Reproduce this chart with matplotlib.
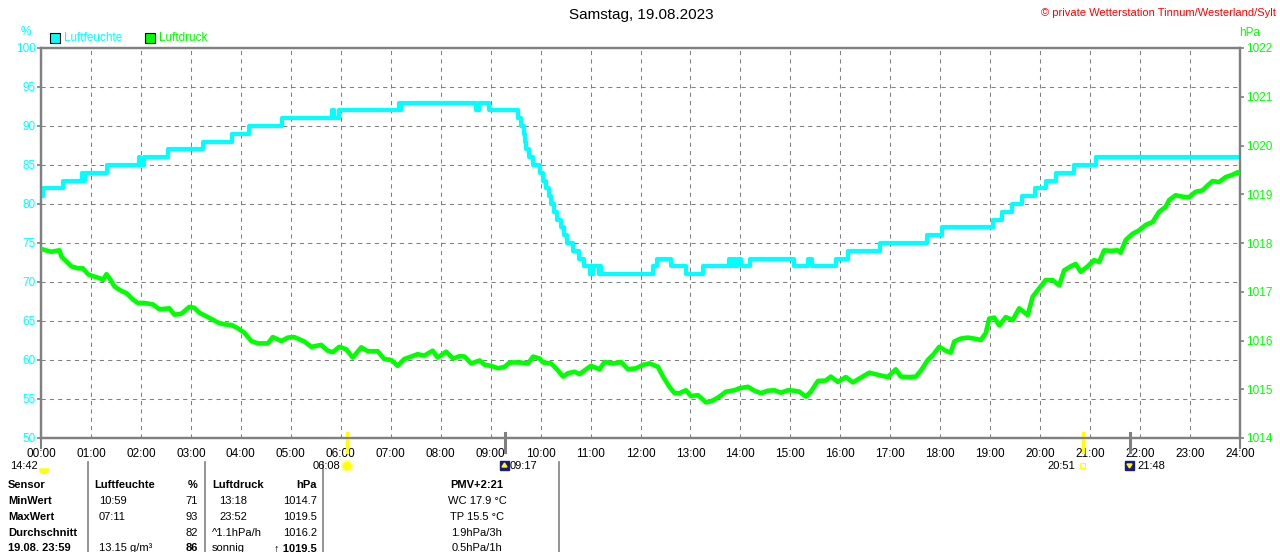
import matplotlib
matplotlib.use('Agg')
import matplotlib.pyplot as plt
import matplotlib.transforms as mtransforms
from matplotlib.patches import Rectangle, Circle, Wedge, Polygon

plt.rcParams['font.family'] = ['Liberation Sans', 'DejaVu Sans']

# Luftfeuchte (%) as step breakpoints: hour of day, value
hum_hours = [0.00, 0.05, 0.45, 0.83, 0.86, 0.89, 1.32, 1.96, 1.99, 2.07, 2.55, 3.25, 3.83,
             4.17, 4.83, 5.83, 5.86, 5.97, 7.17, 7.19, 7.21, 8.70, 8.76, 8.97, 9.55, 9.60,
             9.66, 9.68, 9.70, 9.77, 9.85, 9.98, 10.05, 10.10, 10.17, 10.20, 10.27, 10.33,
             10.40, 10.47, 10.53, 10.65, 10.77, 10.87, 10.98, 11.00, 11.02, 11.04, 11.17,
             11.18, 11.20, 12.25, 12.33, 12.61, 12.92, 13.25, 13.77, 13.82, 13.85, 13.90,
             13.95, 14.02, 14.19, 15.08, 15.35, 15.43, 15.92, 16.15, 16.79, 17.73, 18.03,
             19.05, 19.23, 19.43, 19.63, 19.90, 20.12, 20.32, 20.67, 21.12, 24.00]
hum_vals = [81, 82, 83, 84, 83, 84, 85, 86, 85, 86, 87, 88, 89,
            90, 91, 92, 91, 92, 93, 92, 93, 92, 93, 92, 91, 90,
            89, 88, 87, 86, 85, 84, 83, 82, 81, 80, 79, 78,
            77, 76, 75, 74, 73, 72, 71, 72, 71, 72, 71,
            72, 71, 72, 73, 72, 71, 72, 73, 72, 73, 72,
            73, 72, 73, 72, 73, 72, 73, 74, 75, 76, 77,
            78, 79, 80, 81, 82, 83, 84, 85, 86, 86]

# Luftdruck (hPa)
p_hours = [0.00, 0.20, 0.37, 0.41, 0.51, 0.61, 0.74, 0.84, 0.94, 1.04, 1.17, 1.24, 1.31, 1.37,
           1.47, 1.57, 1.71, 1.84, 1.94, 2.07, 2.24, 2.37, 2.57, 2.67, 2.81, 2.97, 3.07, 3.17,
           3.34, 3.54, 3.67, 3.81, 3.94, 4.07, 4.21, 4.34, 4.54, 4.64, 4.81, 4.94, 5.07, 5.27,
           5.41, 5.61, 5.74, 5.84, 5.97, 6.11, 6.24, 6.41, 6.54, 6.74, 6.87, 7.01, 7.14, 7.27,
           7.41, 7.54, 7.67, 7.84, 7.94, 8.11, 8.25, 8.38, 8.48, 8.61, 8.78, 8.88, 9.01, 9.15,
           9.28, 9.38, 9.58, 9.75, 9.85, 9.98, 10.05, 10.21, 10.31, 10.45, 10.55, 10.68, 10.78,
           10.91, 11.01, 11.18, 11.28, 11.45, 11.61, 11.75, 11.91, 12.05, 12.18, 12.35, 12.45,
           12.58, 12.68, 12.78, 12.91, 13.01, 13.15, 13.31, 13.45, 13.58, 13.71, 13.88, 13.98,
           14.15, 14.28, 14.41, 14.55, 14.68, 14.81, 14.95, 15.08, 15.18, 15.31, 15.41, 15.55,
           15.71, 15.81, 15.95, 16.11, 16.25, 16.38, 16.58, 16.78, 16.95, 17.11, 17.21, 17.38,
           17.51, 17.61, 17.75, 17.85, 17.98, 18.11, 18.21, 18.28, 18.41, 18.55, 18.68, 18.81,
           18.91, 18.98, 19.08, 19.18, 19.31, 19.45, 19.58, 19.75, 19.85, 19.98, 20.11, 20.25,
           20.38, 20.48, 20.61, 20.71, 20.81, 20.95, 21.08, 21.18, 21.28, 21.41, 21.55, 21.61,
           21.71, 21.85, 21.98, 22.11, 22.25, 22.38, 22.51, 22.58, 22.71, 22.85, 22.98, 23.11,
           23.25, 23.35, 23.45, 23.58, 23.71, 23.85, 23.95, 24.00]
p_vals = [1017.88, 1017.82, 1017.85, 1017.72, 1017.62, 1017.52, 1017.48, 1017.48, 1017.36,
          1017.32, 1017.28, 1017.24, 1017.36, 1017.28, 1017.11, 1017.04, 1016.97, 1016.84,
          1016.77, 1016.77, 1016.74, 1016.64, 1016.66, 1016.53, 1016.55, 1016.69, 1016.67,
          1016.57, 1016.48, 1016.37, 1016.33, 1016.32, 1016.25, 1016.16, 1015.99, 1015.94,
          1015.94, 1016.07, 1015.99, 1016.06, 1016.07, 1015.98, 1015.87, 1015.91, 1015.79,
          1015.76, 1015.87, 1015.82, 1015.65, 1015.86, 1015.78, 1015.78, 1015.62, 1015.60,
          1015.48, 1015.62, 1015.67, 1015.72, 1015.69, 1015.79, 1015.65, 1015.77, 1015.63,
          1015.68, 1015.67, 1015.53, 1015.59, 1015.50, 1015.48, 1015.43, 1015.46, 1015.55,
          1015.55, 1015.53, 1015.67, 1015.63, 1015.55, 1015.53, 1015.43, 1015.26, 1015.33,
          1015.36, 1015.31, 1015.41, 1015.48, 1015.41, 1015.56, 1015.53, 1015.56, 1015.41,
          1015.43, 1015.50, 1015.53, 1015.46, 1015.26, 1015.05, 1014.92, 1014.92, 1014.98,
          1014.86, 1014.88, 1014.73, 1014.77, 1014.85, 1014.95, 1014.98, 1015.02, 1015.05,
          1014.97, 1014.92, 1014.97, 1014.98, 1014.93, 1014.98, 1014.97, 1014.95, 1014.85,
          1014.95, 1015.17, 1015.18, 1015.26, 1015.15, 1015.25, 1015.14, 1015.22, 1015.34,
          1015.29, 1015.25, 1015.41, 1015.26, 1015.25, 1015.26, 1015.38, 1015.60, 1015.70,
          1015.87, 1015.79, 1015.75, 1015.98, 1016.04, 1016.06, 1016.04, 1016.01, 1016.15,
          1016.45, 1016.47, 1016.31, 1016.48, 1016.42, 1016.66, 1016.52, 1016.90, 1017.07,
          1017.24, 1017.24, 1017.13, 1017.44, 1017.52, 1017.57, 1017.41, 1017.52, 1017.65,
          1017.61, 1017.85, 1017.84, 1017.85, 1017.80, 1018.06, 1018.19, 1018.26, 1018.37,
          1018.43, 1018.64, 1018.74, 1018.88, 1018.98, 1018.95, 1018.94, 1019.05, 1019.08,
          1019.18, 1019.27, 1019.25, 1019.35, 1019.40, 1019.45, 1019.42]

hour_labels = ['%02d:00' % h for h in range(25)]
hum_ticks = [50, 55, 60, 65, 70, 75, 80, 85, 90, 95, 100]
p_ticks = [1014, 1015, 1016, 1017, 1018, 1019, 1020, 1021, 1022]

# sun / moon events (hour)
sunrise, sunset = 6 + 8 / 60, 20 + 51 / 60
moonrise, moonset = 9 + 17 / 60, 21 + 48 / 60

table_rows = [
    ['Sensor', 'Luftfeuchte', '%', 'Luftdruck', 'hPa', 'PMV+2:21'],
    ['MinWert', '10:59', '71', '13:18', '1014.7', 'WC 17.9 °C'],
    ['MaxWert', '07:11', '93', '23:52', '1019.5', 'TP 15.5 °C'],
    ['Durchschnitt', '', '82', '^1.1hPa/h', '1016.2', '1.9hPa/3h'],
    ['19.08. 23:59', '13.15 g/m³', '86', 'sonnig', '\u2191 1019.5', '0.5hPa/1h'],
]

CYAN = '#00ffff'
GREEN = '#00ff00'
GRAY = '#808080'
FS = 8

W, H = 1280, 552
fig = plt.figure(figsize=(W / 100, H / 100), dpi=100)
# pixel coordinates measured from the top-left corner
T = mtransforms.Affine2D().scale(1, -1).translate(0, H)

ax = fig.add_axes([41 / W, 1 - 438 / H, 1199 / W, 390 / H])
ax2 = ax.twinx()

ax.plot(hum_hours, hum_vals, drawstyle='steps-post', color=CYAN, lw=3, zorder=4)
ax2.plot(p_hours, p_vals, color=GREEN, lw=3.3, zorder=4)

ax.set_xlim(0, 24)
ax.set_ylim(50, 100)
ax2.set_ylim(1014, 1022)
ax.set_xticks(range(25))
ax.set_xticklabels(hour_labels)
ax.set_yticks(hum_ticks)
ax2.set_yticks(p_ticks)

ax.grid(True, color=GRAY, lw=0.75, linestyle=(0, (4, 4)))
ax.set_axisbelow(True)
for a in (ax, ax2):
    for s in a.spines.values():
        s.set_color(GRAY)
        s.set_linewidth(1.6)
ax.tick_params(axis='x', length=0, pad=7, labelsize=FS + 0.5, colors='black')
ax.tick_params(axis='y', length=3, width=1.2, color=GRAY, labelcolor=CYAN, labelsize=FS + 0.5, pad=1)
ax2.tick_params(axis='y', length=3, width=1.2, color=GRAY, labelcolor=GREEN, labelsize=FS + 0.5, pad=1)

# event markers on the time axis
bt = mtransforms.blended_transform_factory(ax.transData, ax.transAxes)
for h, c in [(sunrise, '#ffff00'), (sunset, '#ffff00'), (moonrise, GRAY), (moonset, GRAY)]:
    ax.plot([h, h], [0.013, -0.035], color=c, lw=2.2, transform=bt, clip_on=False, zorder=6)
for h in (0, 24):
    ax.plot([h, h], [0, -0.025], color=GRAY, lw=1.5, transform=bt, clip_on=False)

# title and header texts
fig.text(641, 15, 'Samstag, 19.08.2023', transform=T, ha='center', va='center', fontsize=11)
fig.text(1276, 13, '© private Wetterstation Tinnum/Westerland/Sylt', transform=T,
         ha='right', va='center', fontsize=8, color='red')
fig.text(26, 32, '%', transform=T, ha='center', va='center', fontsize=FS + 0.5, color=CYAN)
fig.text(1250, 33, 'hPa', transform=T, ha='center', va='center', fontsize=FS + 0.5, color=GREEN)
fig.add_artist(Rectangle((50, 33), 10, 10, transform=T, facecolor=CYAN, edgecolor='black', lw=0.8))
fig.text(64, 38, 'Luftfeuchte', transform=T, ha='left', va='center', fontsize=FS + 0.5, color=CYAN)
fig.add_artist(Rectangle((145, 33), 10, 10, transform=T, facecolor=GREEN, edgecolor='black', lw=0.8))
fig.text(159, 38, 'Luftdruck', transform=T, ha='left', va='center', fontsize=FS + 0.5, color=GREEN)

# event labels with small icons
ey = 466
fig.text(38, ey, '14:42', transform=T, ha='right', va='center', fontsize=FS)
fig.add_artist(Wedge((44, ey + 3), 4.5, 0, 180, transform=T, color='#ffff00'))
fig.text(340, ey, '06:08', transform=T, ha='right', va='center', fontsize=FS)
fig.add_artist(Circle((347, ey), 5.5, transform=T, color='#ffff99'))
fig.add_artist(Circle((347, ey), 3.5, transform=T, color='#ffff00'))
fig.add_artist(Rectangle((500, ey - 5), 9, 9, transform=T, color='#1a1a80'))
fig.add_artist(Polygon([(504.5, ey - 3), (502, ey + 1), (507, ey + 1)], transform=T, color='#ffff00'))
fig.text(510, ey, '09:17', transform=T, ha='left', va='center', fontsize=FS)
fig.text(1075, ey, '20:51', transform=T, ha='right', va='center', fontsize=FS)
fig.add_artist(Rectangle((1080, ey - 3), 5, 5, transform=T, facecolor='none', edgecolor='#ffff00', lw=0.8))
fig.add_artist(Rectangle((1125, ey - 5), 9, 9, transform=T, color='#1a1a80'))
fig.add_artist(Polygon([(1129.5, ey + 2), (1127, ey - 2), (1132, ey - 2)], transform=T, color='#ffff00'))
fig.text(1137, ey, '21:48', transform=T, ha='left', va='center', fontsize=FS)

# bottom table
for x in (88, 205, 323, 559):
    fig.add_artist(plt.Line2D([x, x], [462, 552], transform=T, color=GRAY, lw=1.2))
row_y = [485, 501, 517, 533, 548]
for i, row in enumerate(table_rows):
    y = row_y[i]
    head = i == 0
    fig.text(8, y, row[0], transform=T, ha='left', va='center', fontsize=FS, weight='bold')
    fig.text(94 if head else 99, y, row[1], transform=T, ha='left', va='center', fontsize=FS,
             weight='bold' if head else 'normal')
    fig.text(198, y, row[2], transform=T, ha='right', va='center', fontsize=FS,
             weight='bold' if head or i == 4 else 'normal')
    fig.text(212 if (head or i >= 3) else 219, y, row[3], transform=T, ha='left', va='center',
             fontsize=FS, weight='bold' if head else 'normal')
    fig.text(317, y, row[4], transform=T, ha='right', va='center', fontsize=FS,
             weight='bold' if head or i == 4 else 'normal')
    fig.text(477, y, row[5], transform=T, ha='center', va='center', fontsize=FS,
             weight='bold' if head else 'normal')

fig.savefig('out.png', dpi=100)
